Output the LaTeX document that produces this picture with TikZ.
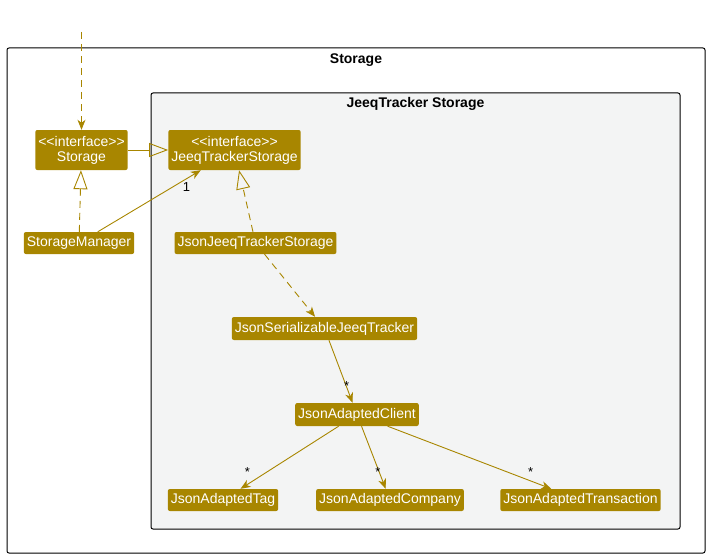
\documentclass[tikz,border=0pt]{standalone}
\usepackage{fontspec}
\setmainfont{Liberation Sans}
\usepackage{tikz}
\usetikzlibrary{arrows.meta}
\definecolor{gold}{RGB}{168,134,0}
\definecolor{pkgfill}{RGB}{243,244,244}
\newcommand{\stereo}[1]{<\kern0pt<#1>\kern0pt>}
\newcommand{\clsfont}{\fontsize{14}{15}\selectfont}

\begin{document}
\begin{tikzpicture}[x=1pt,y=-1pt,
    cls/.style={fill=gold,text=white,rounded corners=2pt,font=\clsfont,
      inner xsep=3pt,inner ysep=0pt,minimum height=22pt,align=center},
    iface/.style={cls,minimum height=40pt},
    lnk/.style={draw=gold,line width=0.9pt},
    dsh/.style={lnk,dash pattern=on 7pt off 5pt},
    arr/.style={-{Stealth[length=10pt,width=8pt,inset=3pt]}},
    gen/.style={-{Triangle[open,length=19pt,width=14pt]}},
    card/.style={text=black,font=\fontsize{13}{13}\selectfont,inner sep=0pt,pos=0.88}]
      \useasboundingbox (0,0) rectangle (708,559);
      \draw[rounded corners=2pt,line width=1pt] (7,48) rectangle (705,553);
      \draw[rounded corners=2pt,line width=1pt,fill=pkgfill] (151,93) rectangle (680,529);
      \node[font=\bfseries\clsfont] (a) at (356,60) {Storage};
      \node[font=\bfseries\clsfont] (b) at (415.5,104) {JeeqTracker Storage};

      \node[iface] (1) at (81.5,150) {\stereo{interface}\\Storage};
      \node[iface] (2) at (234.5,150) {\stereo{interface}\\JeeqTrackerStorage};
      \node[cls] (3) at (79,243) {StorageManager};
      \node[cls] (4) at (255.5,243) {JsonJeeqTrackerStorage};
      \node[cls,minimum height=23pt] (5) at (324.5,328.5) {JsonSerializableJeeqTracker};
      \node[cls,minimum height=23pt] (6) at (357,414.5) {JsonAdaptedClient};
      \node[cls] (7) at (223,500) {JsonAdaptedTag};
      \node[cls] (8) at (390,500) {JsonAdaptedCompany};
      \node[cls] (9) at (580.5,500) {JsonAdaptedTransaction};
      \coordinate (0) at (81.5,32);

      \draw[dsh,arr] (0) -- (1);
      \draw[lnk,gen] (1) -- (2);
      \draw[dsh,gen] (3) -- (1);
      \draw[lnk,arr] (3) -- node[card,xshift=-2pt,yshift=-9pt] {1} (2);
      \draw[dsh,gen] (4) -- (2);
      \draw[dsh,arr] (4) -- (5);
      \draw[lnk,arr] (5) -- node[card,xshift=-3pt,yshift=9.5pt] {*} (6);
      \draw[lnk,arr] (6) -- node[card,xshift=-5pt,yshift=9.5pt] {*} (7);
      \draw[lnk,arr] (6) -- node[card,xshift=-5pt,yshift=9.5pt] {*} (8);
      \draw[lnk,arr] (6) -- node[card,xshift=-1pt,yshift=9.5pt] {*} (9);
    \end{tikzpicture}
\end{document}
